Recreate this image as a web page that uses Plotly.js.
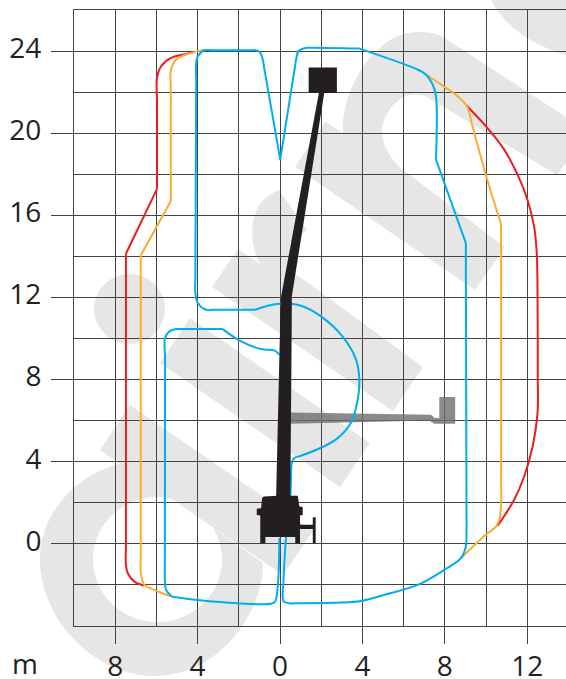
<!DOCTYPE html>
<html>
<head>
<meta charset="utf-8">
<script src="https://cdn.plot.ly/plotly-3.0.1.min.js"></script>
<style>html,body{margin:0;padding:0;background:#fff;overflow:hidden}</style>
</head>
<body>
<div id="chart" style="width:566px;height:679px"></div>
<script>
// Tick labels
const xTickVals = [-8,-4,0,4,8,12];
const xTickText = ['8','4','0','4','8','12'];
const yTickVals = [0,4,8,12,16,20,24];
const yTickText = ['0','4','8','12','16','20','24'];

// Working envelopes (metres)
const redLeftX = [-4.22,-4.56,-5.29,-5.77,-5.97,-5.97,-5.97,-5.97,-7.48,-7.48,-7.48,-7.48,-7.39,-7.07,-6.61];
const redLeftY = [23.93,23.86,23.67,23.26,22.70,21.50,18.00,17.29,14.13,13.00,0.00,-1.02,-1.43,-1.84,-2.03];
const redRightX = [9.05,9.99,10.88,11.53,12.01,12.33,12.46,12.50,12.51,12.50,12.26,11.85,11.36,10.56];
const redRightY = [21.35,20.34,19.20,17.98,16.76,15.46,14.17,11.89,7.99,6.38,4.74,3.28,2.14,0.88];
const orangeLeftX = [-3.67,-4.56,-5.04,-5.29,-5.30,-5.30,-5.30,-6.76,-6.76,-6.76,-6.76,-6.69,-6.58,-5.93,-5.24];
const orangeLeftY = [24.07,23.83,23.59,23.10,22.00,17.50,16.70,14.04,13.00,-0.50,-1.41,-1.75,-2.00,-2.32,-2.57];
const orangeRightX = [7.08,8.05,8.62,9.05,9.21,9.30,9.99,10.72,10.73,10.73,10.73,10.64,10.48,9.99,8.78];
const orangeRightY = [22.86,22.21,21.80,21.35,20.91,20.50,17.98,15.59,14.50,3.00,1.90,1.17,0.84,0.44,-0.70];
const blueOuterX = [0.01,-0.755,-0.84,-0.97,-1.16,-1.50,-3.30,-3.67,-3.99,-4.07,-4.07,-4.11,-4.11,-3.99,-3.59,-3.20,-1.21,-0.60,0.01,1.02,1.99,3.04,3.69,3.85,3.77,3.44,2.80,1.99,1.02,0.69,0.57,0.53,0.50,0.29,0.16,0.13,0.19,0.44,0.90,2.96,3.93,5.04,6.68,7.97,8.78,9.02,9.05,9.05,9.02,9.02,7.57,7.57,7.41,7.08,6.68,3.85,1.34,1.18,0.89,0.81,0.72,0.01];
const blueOuterY = [18.71,23.10,23.59,23.94,24.04,24.04,24.04,24.04,23.75,23.43,22.50,13.00,12.22,11.73,11.40,11.40,11.40,11.60,11.70,11.60,11.08,10.09,8.97,7.99,7.02,5.90,5.15,4.68,4.29,4.18,3.93,3.12,2.29,0.33,-1.90,-2.57,-2.81,-2.89,-2.89,-2.86,-2.78,-2.49,-2.00,-1.27,-0.70,-0.13,0.54,1.50,13.70,14.65,18.71,21.80,22.37,22.86,23.10,24.12,24.16,24.14,23.99,23.75,23.20,18.71];
const blueInnerX = [-0.03,-0.28,-0.92,-1.89,-2.78,-4.60,-5.04,-5.37,-5.58,-5.58,-5.59,-5.59,-5.53,-5.24,-3.99,-2.05,-0.44,-0.24,-0.11,-0.03];
const blueInnerY = [9.21,9.42,9.49,9.86,10.46,10.46,10.46,10.35,10.02,9.00,-0.80,-1.75,-2.24,-2.57,-2.73,-2.89,-2.92,-2.81,-2.08,0.29];

// Indexes where an envelope has a sharp corner
const redLeftCorners = [7,8];
const orangeLeftCorners = [6,7];
const orangeRightCorners = [5,7];
const blueOuterCorners = [16,49,50,55];
const blueInnerCorners = [4,13];

// Machine outline (metres)
const greyBoomX = [0.53,7.32,7.52,7.73,7.73,8.50,8.50,7.48,7.24,0.53];
const greyBoomY = [6.40,6.29,6.13,6.13,7.15,7.15,5.85,5.85,6.01,5.85];
const blackBoomX = [1.89,2.15,0.57,0.57,0.50,-0.19,0.01,0.05];
const blackBoomY = [21.98,21.98,12.04,10.92,2.29,2.29,10.92,12.04];
const platformX = [1.39,2.76,2.76,1.39];
const platformY = [23.20,23.20,21.96,21.96];
const vehicleX = [-0.79,-0.11,0.86,0.94,1.10,1.10,0.97,0.97,0.74,0.74,-0.71,-0.71,-0.96,-0.96,-1.13,-1.13,-0.92,-0.87];
const vehicleY = [2.31,2.34,2.34,1.82,1.79,1.41,1.38,0.03,0.03,0.33,0.33,0.03,0.03,1.38,1.41,1.71,1.74,2.23];
const outriggerX = [0.97,1.59,1.59,1.73,1.73,1.59,1.59,0.97];
const outriggerY = [0.93,0.93,1.30,1.30,0.03,0.03,0.72,0.72];

// Background watermark outlines, as figure-space paths
const wmPaths = [
  'M 487 -10 C 497 22 530 45 566 55 L 566 -10 Z',
  'M 295 167 L 325 122 L 343 133 C 341 90 375 32 417 32 C 428 32 436 33 443 37 L 566 117 L 566 163 L 557 175 L 427 97 C 405 86 382 110 382 132 C 382 148 395 165 407 173 L 505 247 L 475 290 Z',
  'M 238 249 L 260 264 C 250 245 250 222 258 207 C 263 199 270 194 279 190 L 307 230 L 290 243 L 288 270 L 300 277 L 423 367 L 393 411 L 212 287 Z',
  'M 129.5 274 C 149 274 165 290 165 309 C 165 328 149 344 129.5 344 C 110 344 94 328 94 309 C 94 290 110 274 129.5 274 Z',
  'M 190 318 L 370 443 L 340 487 L 160 363 Z',
  'M 130 405 L 313 531 L 283 575 L 100 450 Z',
  'M 263 563 C 264 610 220 679 150 676 C 95 674 38 620 40 555 C 42 510 80 472 123 463 Z M 157.5 497 C 193 497 222 525 222 559.5 C 222 594 193 622 157.5 622 C 122 622 93 594 93 559.5 C 93 525 122 497 157.5 497 Z'
];

const W = 566, H = 679, ML = 74, MT = 10, MB = 53, INK = '#231f20', GRID = '#444444';
const plotW = W - ML, plotH = H - MT - MB;
function wmToPaper(p){
  const t = p.split(' '); let out = [], isX = true;
  for (const s of t){
    if (/^[A-Z]$/.test(s)) { out.push(s); isX = true; }
    else if (isX) { out.push(((+s - ML)/plotW).toFixed(4)); isX = false; }
    else { out.push(((H - MB - +s)/plotH).toFixed(4)); isX = true; }
  }
  return out.join(' ');
}
const shapes = wmPaths.map(p => ({type:'path', path:wmToPaper(p), xref:'paper', yref:'paper', layer:'below',
  fillcolor:'#e6e6e7', line:{width:0}}));

// One smooth line per stretch between sharp corners
function lines(x,y,corners,color){
  const cuts = [0,...corners,x.length-1], out = [];
  for (let i=0;i<cuts.length-1;i++){
    out.push({x:x.slice(cuts[i],cuts[i+1]+1),y:y.slice(cuts[i],cuts[i+1]+1),type:'scatter',mode:'lines',
      line:{color,width:2,shape:'spline',smoothing:1},hoverinfo:'skip',cliponaxis:false});
  }
  return out;
}
function solid(x,y,color){ return {x,y,type:'scatter',mode:'lines',fill:'toself',fillcolor:color,line:{width:0,color},hoverinfo:'skip',cliponaxis:false}; }

const traces = [
  solid(greyBoomX,greyBoomY,'rgba(110,110,110,0.8)'),
  ...lines(redLeftX,redLeftY,redLeftCorners,'#ed1c24'),
  ...lines(redRightX,redRightY,[],'#ed1c24'),
  ...lines(orangeLeftX,orangeLeftY,orangeLeftCorners,'#fbab36'),
  ...lines(orangeRightX,orangeRightY,orangeRightCorners,'#fbab36'),
  ...lines(blueOuterX,blueOuterY,blueOuterCorners,'#00aeef'),
  ...lines(blueInnerX,blueInnerY,blueInnerCorners,'#00aeef'),
  solid(blackBoomX,blackBoomY,INK),
  solid(platformX,platformY,INK),
  solid(vehicleX,vehicleY,INK),
  solid(outriggerX,outriggerY,INK)
];

const tickFont = {family:'"Open Sans", sans-serif', size:28, color:INK};
const layout = {
  width:W, height:H, showlegend:false,
  margin:{l:ML,r:0,t:MT,b:MB,pad:0},
  paper_bgcolor:'rgba(0,0,0,0)', plot_bgcolor:'rgba(0,0,0,0)',
  shapes,
  xaxis:{range:[-10,13.88],tickmode:'array',tickvals:xTickVals,ticktext:xTickText,ticks:'outside',ticklen:17,tickwidth:1,tickcolor:GRID,
    tickfont:tickFont,ticklabelstandoff:-2,showgrid:true,gridcolor:GRID,gridwidth:1,zeroline:false,
    showline:true,linecolor:GRID,linewidth:1,mirror:true,
    minor:{tick0:-10,dtick:2,showgrid:true,gridcolor:GRID,gridwidth:1,ticks:''}},
  yaxis:{range:[-4,26],tickmode:'array',tickvals:yTickVals,ticktext:yTickText,ticks:'outside',ticklen:22,tickwidth:1,tickcolor:GRID,
    tickfont:tickFont,ticklabelstandoff:4,ticklabelshift:-3,showgrid:true,gridcolor:GRID,gridwidth:1,zeroline:false,
    showline:true,linecolor:GRID,linewidth:1,
    minor:{tick0:-4,dtick:2,showgrid:true,gridcolor:GRID,gridwidth:1,ticks:''}},
  annotations:[{text:'m',xref:'paper',yref:'paper',x:(10-ML)/plotW,y:(H-MB-663)/plotH,xanchor:'left',yanchor:'middle',showarrow:false,
    font:tickFont}]
};
Plotly.newPlot('chart',traces,layout,{staticPlot:true,displayModeBar:false});
</script>
</body>
</html>
